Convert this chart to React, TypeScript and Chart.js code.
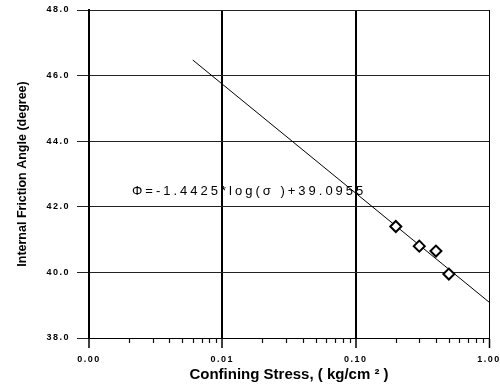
import { useEffect, useRef } from "react";
import { Chart, registerables } from "chart.js";

Chart.register(...registerables);

// Triaxial test results: confining stress (kg/cm²) against internal friction angle (degree)
const confiningStress = [0.2, 0.3, 0.4, 0.5];
const frictionAngle = [41.4, 40.8, 40.65, 39.95];

// Fitted relation  Φ = a·log(σ) + b  (natural log), drawn over this stress range
const fitSlope = -1.4425;
const fitIntercept = 39.0955;
const fitStressRange = [0.006, 1.0];

const xTickValues = [0.001, 0.01, 0.1, 1];
const yTickValues = [38, 40, 42, 44, 46, 48];

const equationText = "Φ=-1.4425*log(σ )+39.0955";
const xTitle = "Confining Stress, ( kg/cm ² )";
const yTitle = "Internal Friction Angle (degree)";

const FONT = "'Liberation Sans', Arial, Helvetica, sans-serif";

const fitPoints = fitStressRange.map((s) => ({ x: s, y: fitSlope * Math.log(s) + fitIntercept }));
const testPoints = confiningStress.map((s, i) => ({ x: s, y: frictionAngle[i] }));

// Minor log ticks under the x axis, the fitted-equation text, and
// letter spacing for the tick labels (drawn after the datasets, ticks.z = 1).
const decorPlugin = {
  id: "decor",
  afterDatasetsDraw(chart: any) {
    const { ctx } = chart;
    const x = chart.scales.x;
    const y = chart.scales.y;
    ctx.save();
    ctx.strokeStyle = "#111";
    ctx.lineWidth = 1.2;
    for (let d = 0; d < xTickValues.length - 1; d++) {
      for (let m = 2; m <= 9; m++) {
        const px = Math.round(x.getPixelForValue(xTickValues[d] * m)) + 0.5;
        ctx.beginPath();
        ctx.moveTo(px, y.bottom);
        ctx.lineTo(px, y.bottom + 5);
        ctx.stroke();
      }
    }
    ctx.font = `13px ${FONT}`;
    ctx.letterSpacing = "3px";
    ctx.fillStyle = "#000";
    ctx.textBaseline = "middle";
    ctx.textAlign = "left";
    ctx.fillText(equationText, x.getPixelForValue(0.0021), y.getPixelForValue(42.48));
    ctx.restore();
    ctx.letterSpacing = "1.5px";
  },
  afterDraw(chart: any) {
    chart.ctx.letterSpacing = "0px";
  },
};

const isDecade = (v: number) => Math.abs(Math.log10(v) - Math.round(Math.log10(v))) < 1e-6;

export default function App() {
  const canvasRef = useRef<HTMLCanvasElement | null>(null);

  useEffect(() => {
    const canvas = canvasRef.current;
    if (!canvas) return;
    const chart = new Chart(canvas, {
      type: "scatter",
      data: {
        datasets: [
          {
            label: "Test data",
            data: testPoints,
            pointStyle: "rectRot",
            pointRadius: 5.5,
            pointBorderWidth: 2,
            pointBackgroundColor: "#fff",
            pointBorderColor: "#000",
            showLine: false,
          },
          {
            label: "Fit",
            data: fitPoints,
            showLine: true,
            borderColor: "#000",
            borderWidth: 1,
            pointRadius: 0,
            fill: false,
          },
        ],
      },
      options: {
        responsive: false,
        animation: false,
        devicePixelRatio: 1,
        layout: { padding: { top: 10, right: 11, left: 0, bottom: 0 } },
        plugins: {
          legend: { display: false },
          tooltip: { enabled: false },
        },
        scales: {
          x: {
            type: "logarithmic",
            min: 0.001,
            max: 1,
            afterBuildTicks: (s: any) => {
              s.ticks = xTickValues.map((v) => ({ value: v, major: true }));
            },
            afterFit: (s: any) => {
              s.height = 51;
              s.paddingLeft = 0;
              s.paddingRight = 0;
            },
            ticks: {
              autoSkip: false,
              maxRotation: 0,
              padding: 6,
              z: 1,
              color: "#000",
              font: { family: FONT, size: 9, weight: "bold" },
              callback: (v: any) => (isDecade(Number(v)) ? Number(v).toFixed(2) : ""),
            },
            grid: {
              color: "#000",
              lineWidth: (c: any) => (c.tick && c.tick.value >= 1 ? 1 : 2),
              tickLength: 10,
              tickColor: "#000",
              tickWidth: 1.5,
            },
            border: { display: true, color: "#000", width: 1 },
            title: {
              display: true,
              text: xTitle,
              color: "#000",
              font: { family: FONT, size: 15, weight: "bold" },
              padding: { top: 0, bottom: 5 },
            },
          },
          y: {
            type: "linear",
            min: 38,
            max: 48,
            afterBuildTicks: (s: any) => {
              s.ticks = yTickValues.map((v) => ({ value: v }));
            },
            afterFit: (s: any) => {
              s.width = 89;
              s.paddingTop = 0;
              s.paddingBottom = 0;
            },
            ticks: {
              padding: 7,
              z: 1,
              color: "#000",
              font: { family: FONT, size: 9, weight: "bold" },
              callback: (v: any) => Number(v).toFixed(1),
            },
            grid: {
              color: "#222",
              lineWidth: 1,
              tickLength: 12,
              tickColor: "#222",
            },
            border: { display: true, color: "#000", width: 2 },
            title: {
              display: true,
              text: yTitle,
              color: "#000",
              font: { family: FONT, size: 12.5, weight: "bold" },
              padding: { top: 15, bottom: 0 },
            },
          },
        },
      },
      plugins: [decorPlugin],
    } as any);
    return () => chart.destroy();
  }, []);

  return (
    <div style={{ position: "absolute", left: 0, top: 0, width: 500, height: 389, background: "#fff" }}>
      <canvas ref={canvasRef} width={500} height={389} style={{ display: "block" }} />
    </div>
  );
}
